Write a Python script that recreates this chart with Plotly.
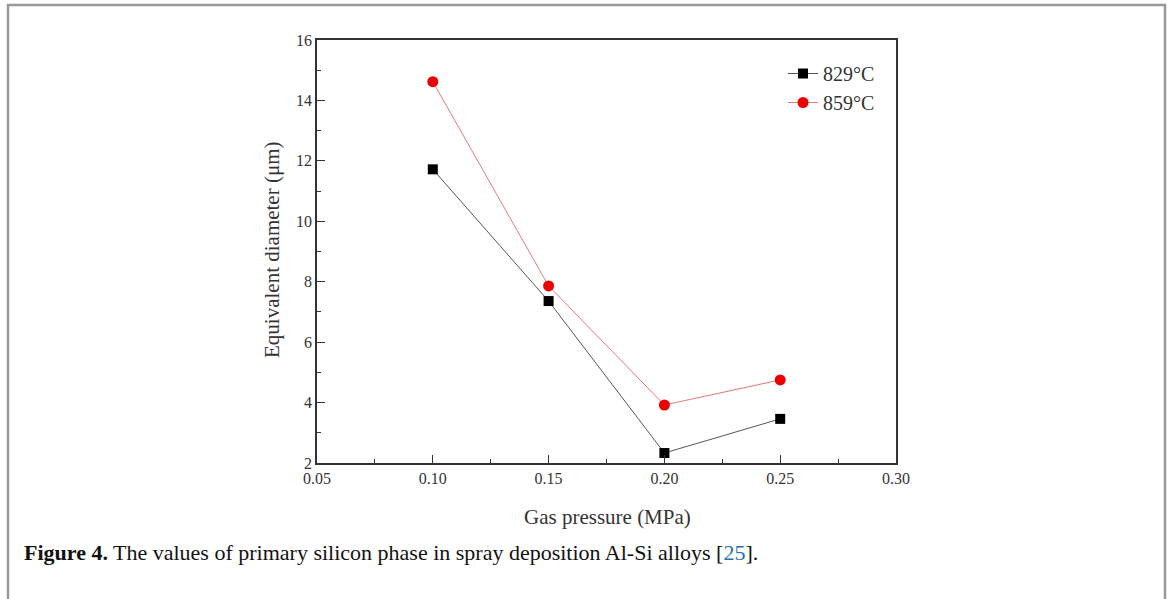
import plotly.graph_objects as go

pressure = [0.10, 0.15, 0.20, 0.25]
d_829 = [11.72, 7.36, 2.33, 3.46]
d_859 = [14.62, 7.86, 3.92, 4.75]
series_names = ["829°C", "859°C"]

W, H = 1171, 599
L, R, T, B = 317, 896, 40, 463
pw, ph = R - L, B - T

def px(x):
    return (x - L) / pw

def py(y):
    return (B - y) / ph

fig = go.Figure()
fig.add_trace(go.Scatter(x=pressure, y=d_829, name=series_names[0], mode="lines+markers",
                         line=dict(color="#555555", width=1),
                         marker=dict(symbol="square", size=10, color="#000000")))
fig.add_trace(go.Scatter(x=pressure, y=d_859, name=series_names[1], mode="lines+markers",
                         line=dict(color="#e87878", width=1),
                         marker=dict(symbol="circle", size=11, color="#ee0000")))

serif = "Liberation Serif, Times New Roman, serif"
axis_common = dict(showline=True, linecolor="#333333", linewidth=1.5, mirror=True,
                   showgrid=False, zeroline=False, ticks="inside", ticklen=8,
                   tickwidth=1.2, tickcolor="#333333",
                   tickfont=dict(family=serif, size=16, color="#333333"))
fig.update_xaxes(range=[0.05, 0.30], tickvals=[0.05, 0.10, 0.15, 0.20, 0.25, 0.30],
                 ticktext=["0.05", "0.10", "0.15", "0.20", "0.25", "0.30"],
                 minor=dict(dtick=0.025, tick0=0.05, ticks="inside", ticklen=4, tickcolor="#333333", tickwidth=1),
                 **axis_common)
fig.update_yaxes(range=[2, 16], dtick=2, tick0=2,
                 minor=dict(dtick=1, tick0=2, ticks="inside", ticklen=4, tickcolor="#333333", tickwidth=1),
                 **axis_common)

fig.update_layout(
    width=W, height=H,
    margin=dict(l=L, r=W - R, t=T, b=H - B),
    paper_bgcolor="white", plot_bgcolor="white",
    showlegend=True,
    legend=dict(x=px(880), y=py(54), xanchor="right", yanchor="top",
                font=dict(family=serif, size=20, color="#333333"),
                bgcolor="rgba(0,0,0,0)", tracegroupgap=0, itemwidth=30),
)

# outer border (open at bottom)
fig.add_shape(type="path", xref="paper", yref="paper",
              path=f"M {px(8)},{py(620)} L {px(8)},{py(5)} L {px(1165)},{py(5)} L {px(1165)},{py(620)}",
              line=dict(color="#999999", width=2.5))

fig.add_annotation(x=px(607), y=py(517), xref="paper", yref="paper", showarrow=False,
                   text="Gas pressure (MPa)", font=dict(family=serif, size=21, color="#333333"),
                   xanchor="center", yanchor="middle")
fig.add_annotation(x=px(272), y=py(250), xref="paper", yref="paper", showarrow=False,
                   text="Equivalent diameter (μm)", textangle=-90,
                   font=dict(family=serif, size=21, color="#333333"),
                   xanchor="center", yanchor="middle")
fig.add_annotation(x=px(22), y=py(552), xref="paper", yref="paper", showarrow=False,
                   text="<b>Figure 4.</b> The values of primary silicon phase in spray deposition Al-Si alloys [<span style='color:#1f6fb5'>25</span>].",
                   font=dict(family=serif, size=22, color="#111111"),
                   xanchor="left", yanchor="middle")

fig.write_html("out.html", config={"displayModeBar": False},
               post_script="document.body.style.margin='0px';")
